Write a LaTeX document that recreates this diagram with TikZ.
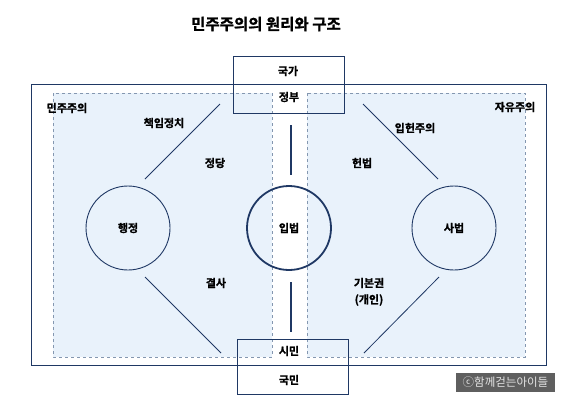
\documentclass[tikz,border=0pt]{standalone}
\usepackage{fontspec}
\setmainfont{Noto Sans CJK KR}[BoldFont={Noto Sans CJK KR Bold},BoldFeatures={FakeBold=1.2}]
\definecolor{navy}{HTML}{1F3864}
\definecolor{lblue}{HTML}{E9F2FB}
\definecolor{dgray}{HTML}{8497B0}
\definecolor{cbox}{HTML}{5F5F5F}
\definecolor{ctext}{HTML}{E6E6E6}
\begin{document}
\begin{tikzpicture}[x=1pt,y=-1pt,
  lbl/.style={font=\fontsize{11}{13}\selectfont\bfseries, inner sep=0pt, text=black},
  ttl/.style={font=\fontsize{15.5}{18}\selectfont\bfseries, inner sep=0pt},
  region/.style={fill=lblue, draw=dgray, dashed, line width=0.8pt},
  framebox/.style={draw=navy, line width=1pt},
  branch/.style={circle, draw=navy, line width=0.9pt, minimum size=84pt, inner sep=0pt, font=\fontsize{11}{13}\selectfont\bfseries},
  conn/.style={draw=navy, line width=0.8pt},
  vconn/.style={draw=navy, line width=1.4pt}]
\useasboundingbox (0,0) rectangle (567,400);
% regions
\draw[region] (53,93) rectangle (272,357);
\draw[region] (307,93) rectangle (525,357);
% outer frame
\draw[framebox] (31,84) rectangle (546,365);
% top / bottom boxes
\node[framebox, minimum width=111pt, minimum height=57pt, inner sep=0pt] (state) at (288.5,84.5) {};
\node[framebox, minimum width=111pt, minimum height=55pt, inner sep=0pt] (people) at (292.5,366.5) {};
% title
\node[ttl] (title) at (266,24) {민주주의의 원리와 구조};
% labels
\node[lbl] (gukga) at (288,71) {국가};
\node[lbl] (jeongbu) at (289,97) {정부};
\node[lbl] (simin) at (289,351) {시민};
\node[lbl] (gukmin) at (289,380) {국민};
\node[lbl] (minju) at (67,108) {민주주의};
\node[lbl] (jayu) at (515,107) {자유주의};
\node[lbl] (chaegim) at (164,123) {책임정치};
\node[lbl] (ipheon) at (415,128) {입헌주의};
\node[lbl] (jeongdang) at (215,163) {정당};
\node[lbl] (heonbeop) at (362,163) {헌법};
\node[lbl] (gyeolsa) at (216,283) {결사};
\node[lbl] (gibon) at (369,283) {기본권};
\node[lbl] (gaein) at (369,300) {(개인)};
% circles
\node[branch] (haengjeong) at (128,228) {행정};
\node[branch, line width=1.8pt] (ipbeop) at (289,228) {입법};
\node[branch] (sabeop) at (454,228) {사법};
% connector ends
\coordinate (ul1) at (220,104); \coordinate (ul2) at (145,179);
\coordinate (ur1) at (363,104); \coordinate (ur2) at (438,179);
\coordinate (ll1) at (145,277); \coordinate (ll2) at (221,353);
\coordinate (lr1) at (439,277); \coordinate (lr2) at (364,353);
\coordinate (vt1) at (291,125); \coordinate (vt2) at (291,175);
\coordinate (vb1) at (291,282); \coordinate (vb2) at (291,332);
\draw[conn] (ul1) -- (ul2);
\draw[conn] (ur1) -- (ur2);
\draw[conn] (ll1) -- (ll2);
\draw[conn] (lr1) -- (lr2);
\draw[vconn] (vt1) -- (vt2);
\draw[vconn] (vb1) -- (vb2);
% copyright
\node[fill=cbox, text=ctext, minimum width=99pt, minimum height=19pt, inner sep=0pt, font=\fontsize{11.5}{13}\selectfont] (copy) at (505.5,382.5) {ⓒ함께걷는아이들};
\end{tikzpicture}
\end{document}
